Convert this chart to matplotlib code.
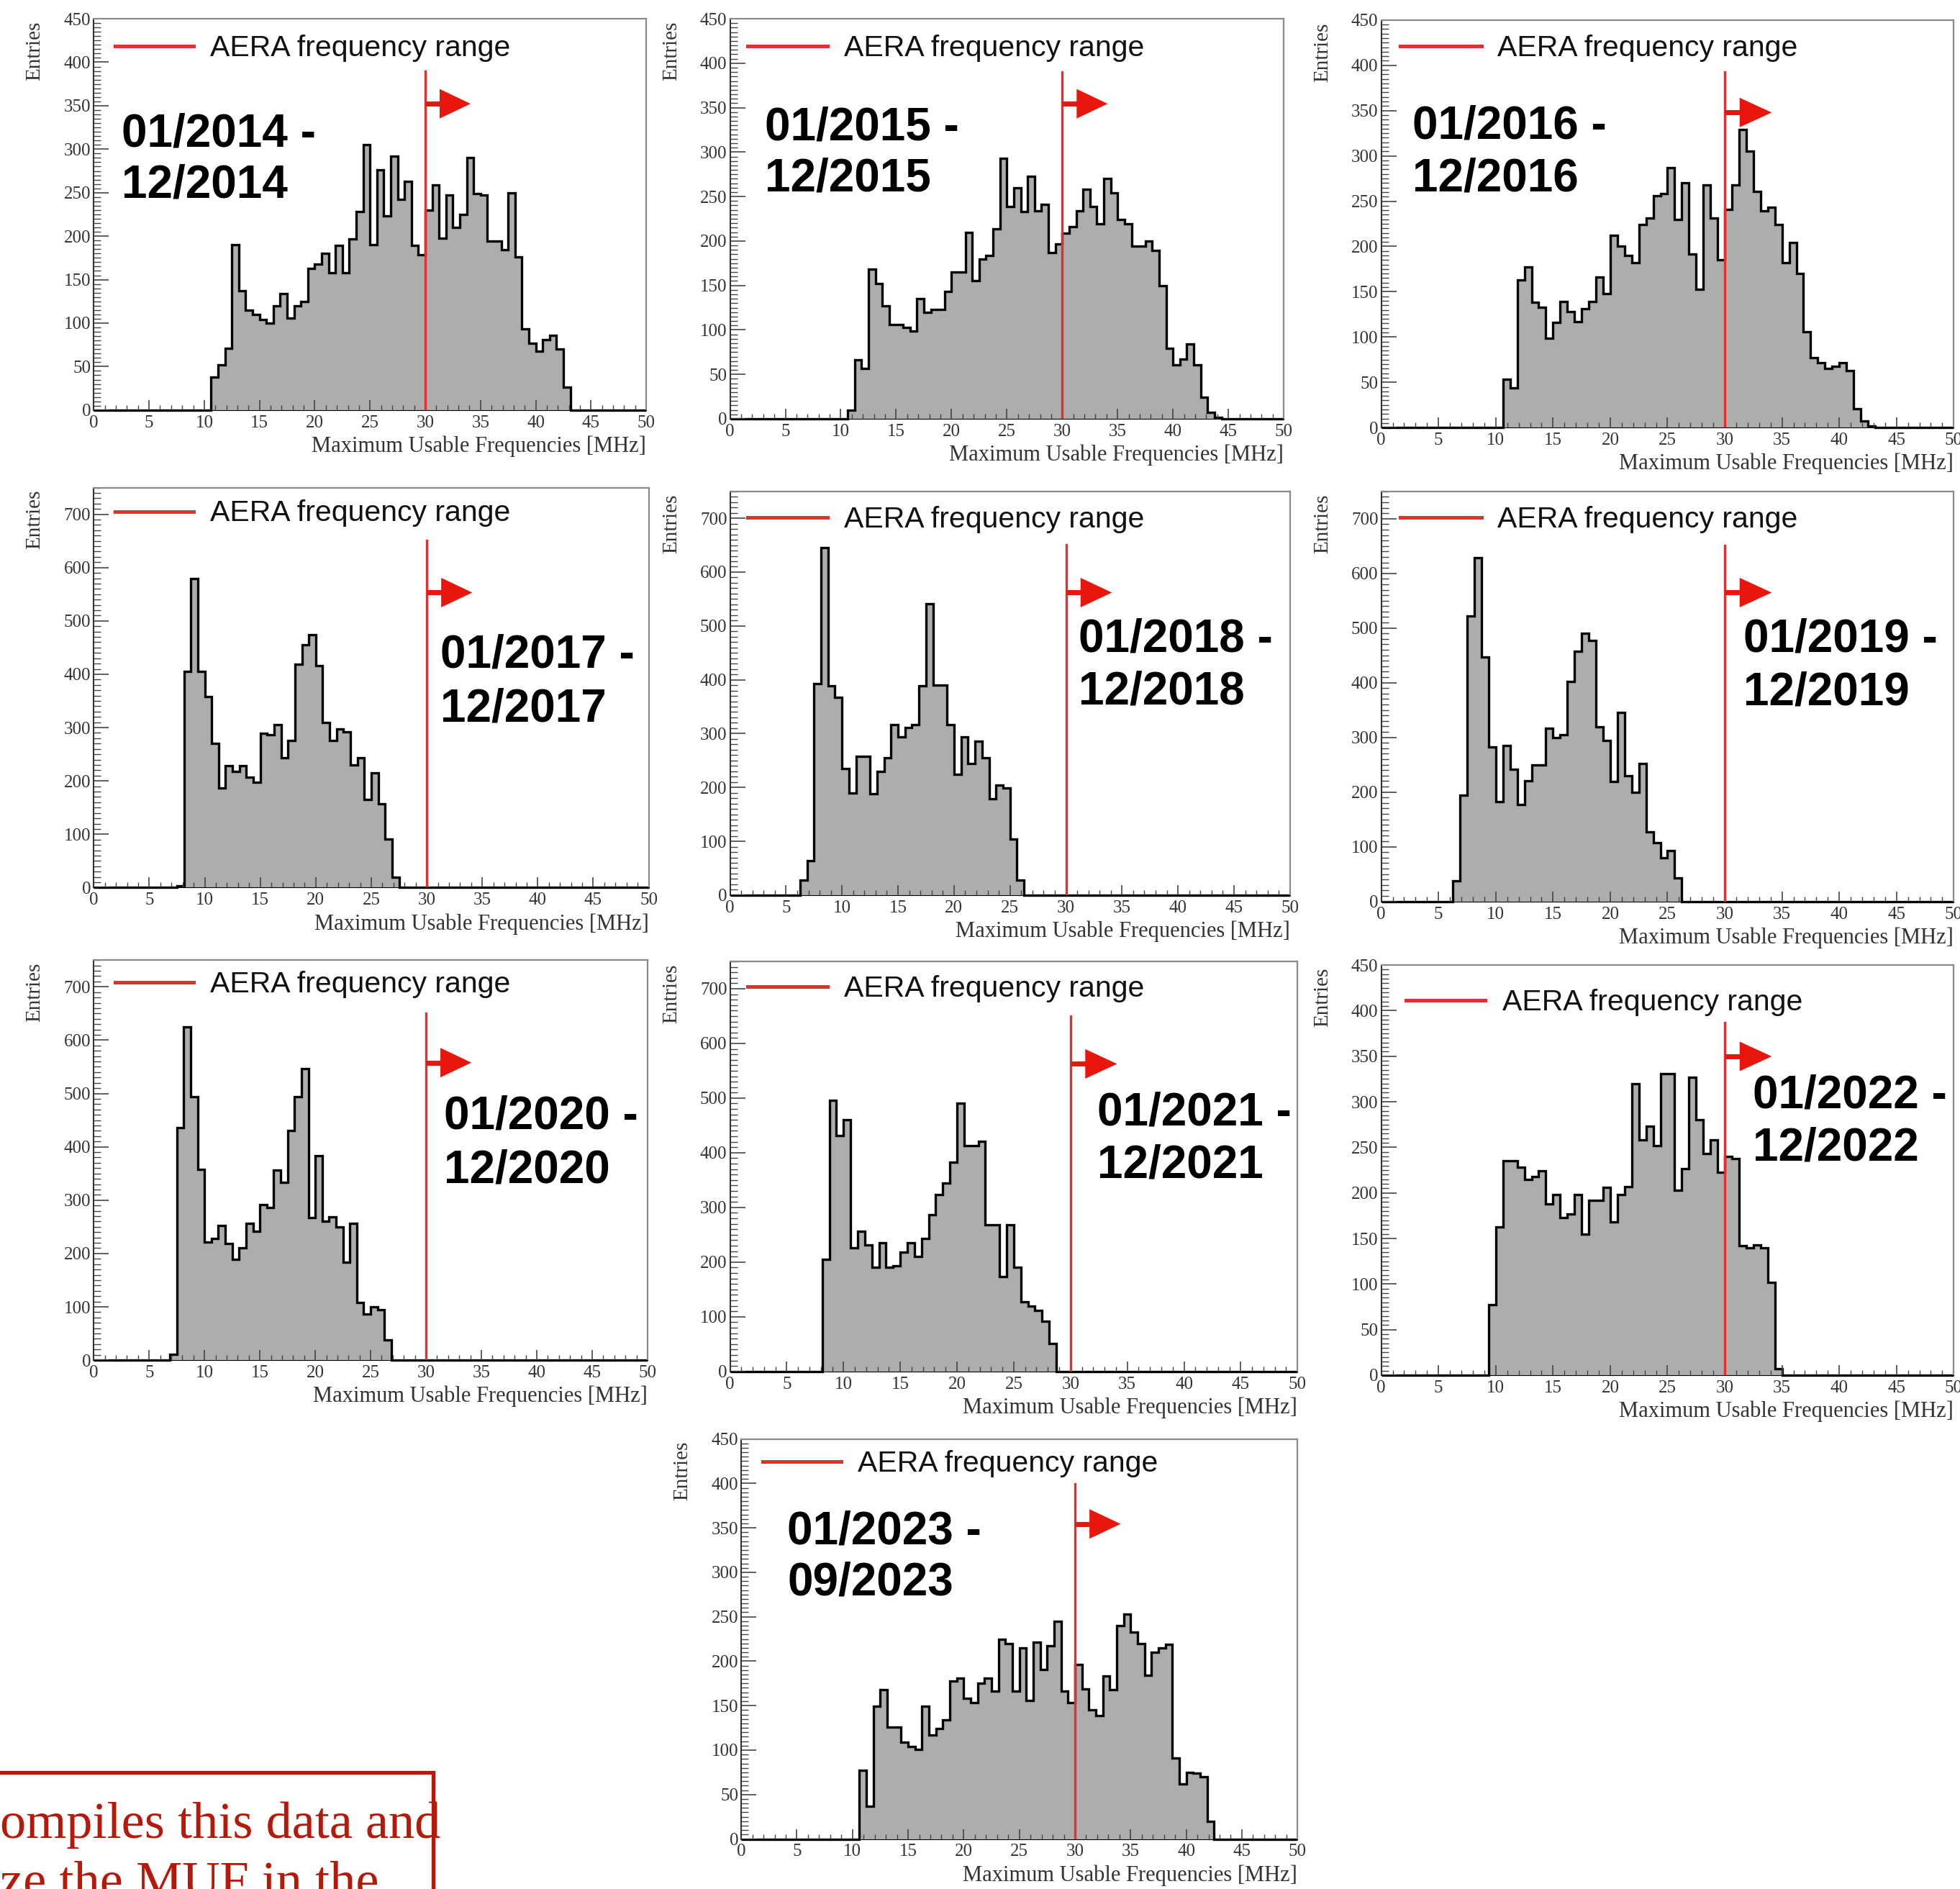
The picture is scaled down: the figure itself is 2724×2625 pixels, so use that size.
import numpy as np
import matplotlib.pyplot as plt
from matplotlib.patches import Polygon, Rectangle
from matplotlib.ticker import MultipleLocator
from matplotlib.transforms import blended_transform_factory

plt.rcParams['font.family'] = 'Liberation Serif'

# MUF histograms: 80 bins of 0.625 MHz between 0 and 50 MHz
edges = np.linspace(0, 50, 81)

# entries per bin, the first value belongs to bin index *_start
h2014_start = 17
h2014 = [38, 52, 71, 190, 137, 115, 110, 104, 100, 120, 134, 106, 120, 125, 163,
         168, 180, 158, 189, 158, 197, 228, 305, 190, 276, 223, 292, 242, 263, 189,
         179, 230, 259, 198, 247, 210, 225, 290, 249, 247, 194, 194, 184, 250, 176,
         93, 77, 68, 81, 86, 70, 26]
h2015_start = 17
h2015 = [10, 66, 57, 168, 152, 127, 106, 106, 103, 99, 135, 120, 123, 123, 143,
         165, 165, 210, 155, 180, 184, 214, 293, 239, 260, 233, 273, 234, 241, 187,
         197, 209, 216, 234, 258, 239, 219, 270, 254, 224, 219, 194, 194, 200, 189,
         150, 79, 61, 67, 84, 61, 24, 7, 2]
h2016_start = 17
h2016 = [53, 44, 163, 177, 138, 133, 99, 116, 139, 128, 117, 131, 139, 166, 148,
         212, 200, 190, 182, 224, 231, 256, 258, 287, 230, 270, 192, 153, 268, 231,
         185, 241, 268, 329, 305, 261, 239, 243, 224, 182, 204, 170, 106, 77, 72,
         65, 68, 72, 63, 21, 7, 2]
h2017_start = 12
h2017 = [3, 405, 579, 405, 358, 270, 187, 229, 218, 229, 207, 198, 289, 287, 306,
         243, 276, 419, 455, 474, 416, 309, 276, 298, 292, 230, 243, 165, 215, 157,
         91, 19]
h2018_start = 10
h2018 = [28, 64, 393, 646, 389, 367, 235, 190, 258, 258, 188, 230, 255, 316, 294,
         311, 316, 389, 541, 390, 390, 316, 224, 294, 244, 286, 255, 179, 204, 199,
         104, 28]
h2019_start = 10
h2019 = [38, 194, 522, 629, 447, 283, 183, 285, 241, 177, 221, 249, 249, 316, 299,
         305, 402, 458, 491, 477, 319, 294, 219, 345, 230, 199, 252, 127, 107, 80,
         93, 43]
h2020_start = 11
h2020 = [11, 436, 625, 494, 358, 222, 228, 253, 219, 189, 211, 256, 242, 292, 286,
         356, 333, 431, 494, 547, 267, 383, 261, 269, 250, 183, 256, 108, 86, 100,
         95, 38]
h2021_start = 13
h2021 = [205, 496, 432, 460, 226, 257, 232, 191, 235, 191, 193, 218, 235, 210, 243,
         287, 323, 345, 383, 490, 413, 413, 421, 268, 268, 174, 268, 191, 127, 119,
         111, 92, 51]
h2022_start = 15
h2022 = [77, 163, 235, 235, 228, 215, 218, 224, 188, 198, 173, 177, 198, 155, 192,
         192, 206, 168, 198, 207, 320, 258, 273, 252, 331, 331, 203, 227, 327, 280,
         243, 258, 223, 240, 238, 142, 140, 143, 140, 102, 7]
h2023_start = 17
h2023 = [77, 37, 149, 168, 126, 126, 109, 104, 101, 149, 117, 124, 134, 178, 181,
         158, 153, 175, 181, 166, 225, 220, 166, 215, 156, 221, 191, 217, 245, 166,
         153, 196, 169, 145, 139, 183, 168, 240, 253, 233, 220, 184, 210, 215, 219,
         91, 62, 75, 74, 70, 20]

periods = [("01/2014 -", "12/2014"), ("01/2015 -", "12/2015"), ("01/2016 -", "12/2016"),
           ("01/2017 -", "12/2017"), ("01/2018 -", "12/2018"), ("01/2019 -", "12/2019"),
           ("01/2020 -", "12/2020"), ("01/2021 -", "12/2021"), ("01/2022 -", "12/2022"),
           ("01/2023 -", "09/2023")]
hists = [(h2014_start, h2014), (h2015_start, h2015), (h2016_start, h2016),
         (h2017_start, h2017), (h2018_start, h2018), (h2019_start, h2019),
         (h2020_start, h2020), (h2021_start, h2021), (h2022_start, h2022),
         (h2023_start, h2023)]
y_max = [450, 450, 450, 750, 750, 750, 750, 750, 450, 450]
aera_cut = 30  # MHz

# layout, measured on a 1568 x 1511 view of the page
W, H = 1568.0, 1511.0
frames = [(75, 517, 15, 328), (584, 1027, 15, 335), (1105, 1563, 16, 342),
          (75, 519, 390, 710), (584, 1032, 393, 716), (1105, 1563, 393, 721),
          (75, 518, 768, 1088), (584, 1038, 769, 1097), (1105, 1563, 772, 1100),
          (593, 1038, 1151, 1471)]
date_pos = [(97, 117, 158), (612, 112, 153), (1130, 111, 153),
            (352, 534, 577), (863, 521, 563), (1395, 521, 564),
            (355, 903, 946), (878, 900, 942), (1402, 886, 928),
            (630, 1235, 1276)]
legend_pos = [(92, 155, 37, 168), (598, 662, 37, 675), (1120, 1185, 37, 1198),
              (92, 155, 409, 168), (598, 662, 414, 675), (1120, 1185, 414, 1198),
              (92, 155, 786, 168), (598, 662, 789, 675), (1125, 1188, 800, 1202),
              (610, 673, 1169, 686)]
arrow_y = [83, 83, 90, 474, 474, 474, 850, 851, 845, 1219]
line_top = [0.866, 0.867, 0.872, 0.867, 0.868, 0.868, 0.867, 0.867, 0.86, 0.887]

red = '#e03030'
arrow_red = '#e8160c'
box_red = '#b4190a'


def fx(x):
    return x / W


def fy(y):
    return 1 - y / H


fig = plt.figure(figsize=(27.24, 26.25), dpi=100)

for i, (start, counts) in enumerate(hists):
    l, r, t, b = frames[i]
    ax = fig.add_axes([fx(l), fy(b), fx(r) - fx(l), fy(t) - fy(b)])
    vals = np.zeros(len(edges) - 1)
    vals[start:start + len(counts)] = counts
    ax.stairs(vals, edges, fill=True, color='#adadad', lw=0)
    ax.stairs(vals, edges, color='black', lw=2.4, clip_on=False)
    ax.set_xlim(0, 50)
    ax.set_ylim(0, y_max[i])

    # AERA band starts at 30 MHz
    ax.axvline(aera_cut, 0, line_top[i], color=red, lw=2.4)
    tr = blended_transform_factory(ax.transData, fig.transFigure)
    ya = fy(arrow_y[i])
    hh = 20.5 / 2625
    ax.plot([aera_cut, 31.6], [ya, ya], transform=tr, color=arrow_red, lw=5,
            solid_capstyle='butt')
    ax.add_patch(Polygon([(31.3, ya - hh), (31.3, ya + hh), (34.1, ya)],
                         closed=True, transform=tr, color=arrow_red, lw=0))

    # axis style (ROOT like)
    major = 50 if y_max[i] == 450 else 100
    ax.xaxis.set_major_locator(MultipleLocator(5))
    ax.xaxis.set_minor_locator(MultipleLocator(1))
    ax.yaxis.set_major_locator(MultipleLocator(major))
    ax.yaxis.set_minor_locator(MultipleLocator(major / 10))
    ax.tick_params(which='both', direction='in', top=False, right=False,
                   colors='#444', labelcolor='#333', labelsize=18)
    ax.tick_params(axis='y', which='major', length=15, width=1.2, pad=3)
    ax.tick_params(axis='y', which='minor', length=7, width=1.0)
    ax.tick_params(axis='x', which='major', length=10, width=1.2, pad=5)
    ax.tick_params(axis='x', which='minor', length=5, width=1.0)
    for side in ['top', 'right']:
        ax.spines[side].set_color('#8a8a8a')
        ax.spines[side].set_linewidth(1.6)
    ax.spines['left'].set_color('#333')
    ax.spines['left'].set_linewidth(1.5)
    ax.spines['bottom'].set_color('black')

    fig.text(fx(l - 47), fy(t + 2), 'Entries', rotation=90, ha='center', va='top',
             fontsize=21, color='#333')
    fig.text(fx(r), fy(b + 29), 'Maximum Usable Frequencies [MHz]', ha='right',
             va='center', fontsize=22, color='#333')

    # legend
    x0, x1, yl, xt = legend_pos[i]
    fig.add_artist(plt.Line2D([fx(x0), fx(x1)], [fy(yl), fy(yl)], color=red, lw=3.6))
    fig.text(fx(xt), fy(yl + 8), 'AERA frequency range', fontsize=29.5,
             family='Liberation Sans', color='#111', va='baseline')

    # period label
    xd, b1, b2 = date_pos[i]
    fig.text(fx(xd), fy(b1), periods[i][0], fontsize=46, family='Liberation Sans',
             weight='bold', va='baseline')
    fig.text(fx(xd), fy(b2), periods[i][1], fontsize=46, family='Liberation Sans',
             weight='bold', va='baseline')

# clipped note box in the lower left corner
fig.add_artist(Rectangle((fx(-5), fy(1530)), fx(351.6), fy(1418) - fy(1530),
                         transform=fig.transFigure, fill=False, edgecolor=box_red,
                         lw=3.8))
fig.text(fx(0), fy(1470), 'ompiles this data and', fontsize=52, color=box_red,
         va='baseline')
fig.text(fx(0), fy(1517), 'ze the MUF in the', fontsize=52, color=box_red,
         va='baseline')

fig.savefig('out.png', dpi=100)
